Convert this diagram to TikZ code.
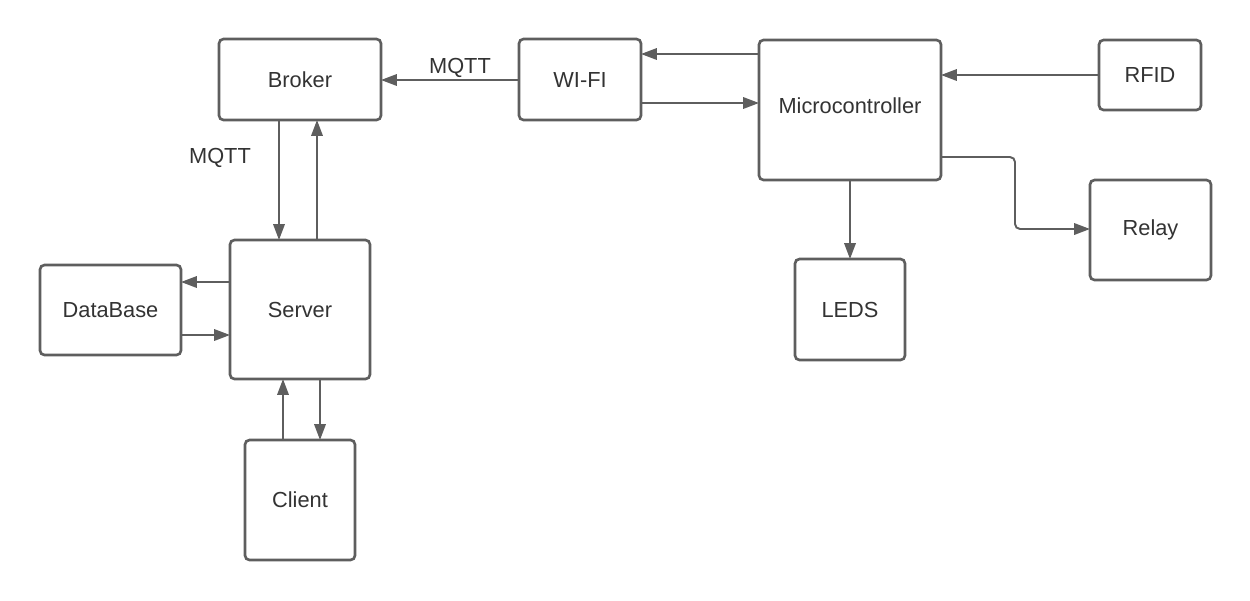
\documentclass[tikz,border=0pt]{standalone}
\usepackage{fontspec}
\setmainfont{Liberation Sans}
\usetikzlibrary{arrows.meta}
\definecolor{linegray}{HTML}{5E5E5E}
\definecolor{textgray}{HTML}{333333}
\tikzset{
  box/.style={draw=linegray, line width=1.5pt, rounded corners=0.09cm, fill=white,
    text=textgray, font=\fontsize{12.4}{14}\selectfont, inner sep=0pt, outer sep=0pt},
  arr/.style={draw=linegray, line width=1.1pt, -{Triangle[length=9pt,width=6.5pt]}},
  lbl/.style={text=textgray, font=\fontsize{12.4}{14}\selectfont, inner sep=0pt}
}
\begin{document}
\begin{tikzpicture}
\useasboundingbox (0,0) rectangle (25,-12);
\node[box, minimum width=3.24cm, minimum height=1.62cm] (broker) at (6.0,-1.59) {Broker};
\node[box, minimum width=2.44cm, minimum height=1.62cm] (wifi) at (11.6,-1.59) {WI-FI};
\node[box, minimum width=3.64cm, minimum height=2.8cm] (micro) at (17.0,-2.2) {};
\node[lbl] (microtxt) at (17.0,-2.12) {Microcontroller};
\node[box, minimum width=2.04cm, minimum height=1.4cm] (rfid) at (23.0,-1.5) {RFID};
\node[box, minimum width=2.42cm, minimum height=2.0cm] (relay) at (23.01,-4.6) {Relay};
\node[box, minimum width=2.2cm, minimum height=2.02cm] (leds) at (17.0,-6.19) {LEDS};
\node[box, minimum width=2.8cm, minimum height=2.78cm] (server) at (6.0,-6.19) {Server};
\node[box, minimum width=2.82cm, minimum height=1.8cm] (db) at (2.21,-6.2) {DataBase};
\node[box, minimum width=2.2cm, minimum height=2.4cm] (client) at (6.0,-10.0) {Client};

\node[lbl] (mqtt1) at (9.2,-1.36) {MQTT};
\node[lbl] (mqtt2) at (4.4,-3.16) {MQTT};

\draw[arr] (wifi.west |- 0,-1.6) -- (broker.east |- 0,-1.6);
\draw[arr] (micro.west |- 0,-1.08) -- (wifi.east |- 0,-1.08);
\draw[arr] (wifi.east |- 0,-2.06) -- (micro.west |- 0,-2.06);
\draw[arr] (rfid.west |- 0,-1.5) -- (micro.east |- 0,-1.5);
\draw[arr, rounded corners=0.1cm] (micro.east |- 0,-3.14) -- (20.3,-3.14) -- (20.3,-4.58) -- (relay.west |- 0,-4.58);
\draw[arr] (micro.south -| 17.0,0) -- (leds.north -| 17.0,0);
\draw[arr] (broker.south -| 5.58,0) -- (server.north -| 5.58,0);
\draw[arr] (server.north -| 6.34,0) -- (broker.south -| 6.34,0);
\draw[arr] (server.west |- 0,-5.64) -- (db.east |- 0,-5.64);
\draw[arr] (db.east |- 0,-6.7) -- (server.west |- 0,-6.7);
\draw[arr] (client.north -| 5.66,0) -- (server.south -| 5.66,0);
\draw[arr] (server.south -| 6.4,0) -- (client.north -| 6.4,0);
\end{tikzpicture}
\end{document}
